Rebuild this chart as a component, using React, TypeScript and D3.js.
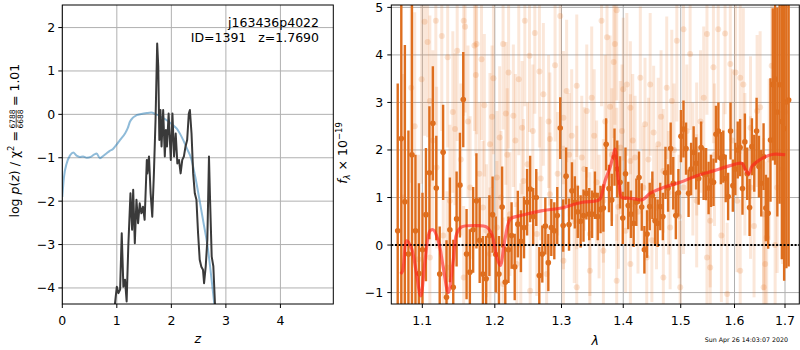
import React from 'react';
import * as d3 from 'd3';

const FONT = '"DejaVu Sans", sans-serif';

// ---- left panel: redshift probability ----
const priorZ = [0, 0.03, 0.08, 0.14, 0.2, 0.26, 0.32, 0.38, 0.45, 0.52, 0.58, 0.63, 0.69, 0.75, 0.81, 0.87, 0.93, 0.97, 1.06, 1.15, 1.2, 1.24, 1.3, 1.36, 1.45, 1.55, 1.63, 1.72, 1.79, 1.91, 2.03, 2.1, 2.16, 2.22, 2.29, 2.36, 2.44, 2.52, 2.59, 2.66, 2.71, 2.755, 2.8];
const priorLogP = [-1.9, -1.45, -1.13, -0.95, -0.88, -0.95, -0.98, -0.97, -1.0, -0.98, -0.93, -0.9, -1.01, -0.96, -0.9, -0.84, -0.8, -0.74, -0.59, -0.44, -0.32, -0.17, -0.07, -0.02, 0.01, 0.03, 0.04, 0.0, -0.04, -0.13, -0.25, -0.33, -0.45, -0.6, -0.8, -1.0, -1.45, -2.0, -2.5, -3.0, -3.5, -4.0, -4.5];

const pzZ = [0.965, 1.0, 1.03, 1.06, 1.09, 1.12, 1.15, 1.18, 1.21, 1.25, 1.28, 1.3, 1.33, 1.36, 1.39, 1.42, 1.45, 1.48, 1.51, 1.55, 1.56, 1.59, 1.62, 1.65, 1.68, 1.71, 1.74, 1.76, 1.78, 1.8, 1.82, 1.85, 1.88, 1.9, 1.92, 1.95, 1.99, 2.02, 2.05, 2.08, 2.11, 2.14, 2.17, 2.2, 2.23, 2.26, 2.29, 2.32, 2.34, 2.37, 2.4, 2.43, 2.46, 2.49, 2.52, 2.55, 2.58, 2.6, 2.63, 2.66, 2.69, 2.71, 2.74, 2.77, 2.8];
const pzLogP = [-4.37, -3.97, -4.12, -4.04, -2.74, -3.97, -3.81, -4.31, -3.05, -1.82, -2.66, -1.74, -2.97, -1.97, -2.51, -2.05, -2.28, -2.13, -2.43, -1.05, -1.36, -0.97, -1.82, -2.36, -1.36, -0.13, 1.63, 1.1, -0.59, 0.1, -0.74, 0.1, -0.97, -0.36, -0.74, 0.02, -1.05, 0.02, -0.97, -0.44, -1.13, -1.05, -1.36, -1.05, -0.97, -0.74, -0.59, 0.02, 0.1, -0.44, -1.36, -1.82, -1.97, -2.74, -3.35, -3.51, -3.58, -3.89, -3.51, -2.89, -0.97, -1.97, -3.28, -3.5, -4.37];

const zTicks = [0, 1, 2, 3, 4];
const logpTicks = [-4, -3, -2, -1, 0, 1, 2];

// ---- right panel: spectrum ----
const specWave = [1.068, 1.0726, 1.0772, 1.0818, 1.0864, 1.091, 1.0956, 1.1002, 1.1048, 1.1094, 1.114, 1.1186, 1.1232, 1.1278, 1.1324, 1.137, 1.1416, 1.1462, 1.1508, 1.1554, 1.16, 1.1646, 1.1692, 1.1738, 1.1784, 1.183, 1.1876, 1.1922, 1.1968, 1.2014, 1.206, 1.2106, 1.2152, 1.2198, 1.2244, 1.229, 1.2336, 1.2382, 1.2428, 1.2474, 1.252, 1.2566, 1.2612, 1.2658, 1.2704, 1.275, 1.2796, 1.2842, 1.2888, 1.2934, 1.298, 1.3026, 1.3072, 1.3118, 1.3164, 1.321, 1.3256, 1.3302, 1.3348, 1.3394, 1.344, 1.3486, 1.3532, 1.3578, 1.3624, 1.367, 1.3716, 1.3762, 1.3808, 1.3854, 1.39, 1.3946, 1.3992, 1.4038, 1.4084, 1.413, 1.4176, 1.4222, 1.4268, 1.4314, 1.436, 1.4406, 1.4452, 1.4498, 1.4544, 1.459, 1.4636, 1.4682, 1.4728, 1.4774, 1.482, 1.4866, 1.4912, 1.4958, 1.5004, 1.505, 1.5096, 1.5142, 1.5188, 1.5234, 1.528, 1.5326, 1.5372, 1.5418, 1.5464, 1.551, 1.5556, 1.5602, 1.5648, 1.5694, 1.574, 1.5786, 1.5832, 1.5878, 1.5924, 1.597, 1.6016, 1.6062, 1.6108, 1.6154, 1.62, 1.6246, 1.6292, 1.6338, 1.6384, 1.643, 1.6476, 1.6522, 1.6568, 1.6614, 1.666, 1.6706, 1.6752, 1.6798, 1.6844, 1.689, 1.6936, 1.6982, 1.7028, 1.7074];
const specFlux = [0.3, 2.24, 0.91, -0.19, 1.9, 0.3, -0.6, -0.1, 0.64, 1.52, 2.56, 1.2, -0.61, 1.95, -1.1, 0.32, -0.89, 0.55, 1.26, 3.06, -0.19, -0.57, 0.32, 0.93, 0.1, -0.61, -0.71, 0.2, 0.64, -0.2, -0.61, 0.8, -0.78, -0.1, 0.2, -0.46, 0.44, 0.08, 0.37, 0.9, 1.18, 0.6, 1.0, -0.64, -0.19, 0.4, -0.37, 0.37, 0.3, 0.62, 2.46, 0.41, 1.45, 0.43, 1.14, 0.9, 0.7, 0.5, 0.62, 1.09, 0.65, 0.65, 1.05, 0.6, 0.75, 0.78, 2.12, 1.19, 0.95, 1.85, 1.6, 1.32, 0.57, 1.5, 0.83, 0.65, 0.46, 0.9, 1.42, 0.8, -0.1, 0.23, 0.81, 1.05, 0.51, 0.46, 0.81, 0.6, 1.52, 1.2, 2.03, 1.3, 0.62, 1.1, 2.29, 2.44, 2.03, 1.09, 1.6, 1.95, 1.72, 1.4, 2.05, 1.5, 1.49, 1.2, 1.35, 1.32, 2.33, 2.4, 1.83, 1.86, 1.4, 1.02, 2.4, 1.25, 1.6, 2.0, 2.05, 1.19, 2.17, 1.5, 0.79, 2.07, 1.72, 2.4, 1.65, 1.3, 1.86, 0.78, 0.67, 2.21, 3.38, 3.49, 2.8, 3.37, 2.6, 2.45, 3.01, 3.05];
const specErr = [3.1, 3.6, 3.3, 2.6, 3.2, 1.6, 1.9, 1.2, 1.4, 1.4, 1.2, 1.1, 1.0, 1.0, 1.2, 1.1, 1.0, 1.0, 1.1, 1.0, 0.95, 0.9, 0.9, 1.0, 0.9, 0.8, 0.9, 0.85, 0.8, 0.8, 0.8, 0.85, 0.75, 0.7, 0.7, 0.7, 0.7, 0.65, 0.65, 0.7, 0.7, 0.6, 0.6, 0.6, 0.6, 0.6, 0.6, 0.6, 0.6, 0.6, 0.65, 0.55, 0.6, 0.55, 0.6, 0.55, 0.55, 0.55, 0.55, 0.55, 0.55, 0.5, 0.5, 0.5, 0.5, 0.5, 0.55, 0.5, 0.55, 0.6, 0.6, 0.55, 0.55, 0.55, 0.5, 0.5, 0.5, 0.5, 0.55, 0.5, 0.5, 0.5, 0.5, 0.5, 0.5, 0.5, 0.5, 0.5, 0.55, 0.5, 0.55, 0.55, 0.5, 0.5, 0.55, 0.6, 0.55, 0.5, 0.55, 0.55, 0.55, 0.55, 0.55, 0.55, 0.55, 0.55, 0.55, 0.5, 0.6, 0.6, 0.55, 0.55, 0.5, 0.5, 0.6, 0.55, 0.55, 0.6, 0.6, 0.55, 0.6, 0.55, 0.6, 0.6, 0.6, 0.7, 0.65, 0.7, 0.7, 0.7, 0.75, 1.3, 1.6, 1.8, 2.2, 2.5, 2.9, 3.2, 3.5, 3.5];

// other exposures (faint): [wavelength, flux, error]
const faintPoints: [number, number, number][] = [
  [1.0855, 3.31, 2.0], [1.099, 3.49, 2.2], [1.103, 4.7, 2.4], [1.107, 4.27, 2.0], [1.11, 3.03, 1.8], [1.118, 4.72, 2.2],
  [1.126, 4.4, 2.0], [1.134, 3.95, 1.9], [1.144, 2.44, 1.6], [1.147, 4.09, 1.9], [1.156, 4.72, 2.0], [1.158, 4.59, 1.8],
  [1.171, 4.2, 1.8], [1.173, 3.58, 1.7], [1.174, 4.23, 1.9], [1.181, 3.91, 1.7], [1.185, 2.94, 1.5], [1.193, 2.12, 1.5],
  [1.198, 3.51, 1.6], [1.203, 1.42, 1.4], [1.207, 2.26, 1.5], [1.212, 4.23, 1.8], [1.216, 2.77, 1.5], [1.22, 3.63, 1.6],
  [1.227, 2.72, 1.5], [1.235, 3.49, 1.6], [1.24, 2.47, 1.4], [1.244, 4.72, 1.8], [1.251, 3.98, 1.6], [1.259, 4.46, 1.7],
  [1.266, 3.65, 1.6], [1.272, 3.17, 1.5], [1.282, 2.23, 1.4], [1.29, 3.78, 1.6], [1.298, 4.82, 1.8], [1.303, 2.68, 1.4],
  [1.308, 3.24, 1.5], [1.316, 2.3, 1.4], [1.324, 3.35, 1.5], [1.332, 1.84, 1.3], [1.34, 2.82, 1.4], [1.348, 3.1, 1.5],
  [1.356, 1.32, 1.3], [1.364, 4.72, 1.8], [1.373, 4.37, 1.7], [1.378, 2.91, 1.5], [1.384, 3.85, 1.6], [1.386, 4.23, 1.7],
  [1.389, 4.94, 1.9], [1.395, 2.05, 1.4], [1.4, 3.28, 1.5], [1.406, 3.38, 1.5], [1.412, 2.89, 1.4], [1.42, 1.84, 1.3],
  [1.429, 3.52, 1.5], [1.437, 2.54, 1.4], [1.446, 3.38, 1.5], [1.452, 2.37, 1.4], [1.46, 2.12, 1.4], [1.469, 1.56, 1.3],
  [1.475, 3.31, 1.5], [1.484, 3.03, 1.5], [1.493, 4.3, 1.7], [1.505, 4.54, 1.7], [1.517, 4.02, 1.6], [1.529, 2.02, 1.4],
  [1.542, 3.1, 1.5], [1.548, 4.44, 1.7], [1.56, 3.74, 1.6], [1.569, 4.54, 1.7], [1.582, 4.45, 1.7], [1.592, 3.81, 1.6],
  [1.602, 3.63, 1.6], [1.611, 3.52, 1.6], [1.617, 3.38, 1.6], [1.631, 2.47, 1.5], [1.644, 2.82, 1.6], [1.673, 3.77, 1.9],
  [1.11, -0.26, 1.8], [1.133, -0.47, 1.6], [1.156, -0.68, 1.5], [1.193, -0.19, 1.4], [1.212, -0.82, 1.4], [1.232, -0.4, 1.3],
  [1.252, -0.96, 1.4], [1.277, -0.61, 1.3], [1.303, -0.33, 1.3], [1.324, -0.89, 1.3], [1.345, -0.54, 1.3], [1.367, -0.12, 1.3],
  [1.389, -0.75, 1.4], [1.412, -0.4, 1.3], [1.44, -0.26, 1.3], [1.469, -0.68, 1.3], [1.499, -0.89, 1.4], [1.548, -0.26, 1.4],
  [1.554, -0.47, 1.4], [1.586, -1.03, 1.5], [1.611, -0.54, 1.5], [1.657, -0.89, 1.6], [1.66, -0.4, 1.6], [1.663, 0.16, 1.6],
  [1.119, 1.63, 1.7], [1.137, 0.93, 1.6], [1.165, 1.21, 1.5], [1.183, 0.79, 1.4], [1.203, 0.37, 1.4], [1.222, 0.65, 1.3],
  [1.242, 1.35, 1.3], [1.262, 0.23, 1.3], [1.282, 1.07, 1.3], [1.303, 0.79, 1.3], [1.324, 1.21, 1.3], [1.345, 0.23, 1.3],
  [1.367, 0.93, 1.3], [1.389, 1.49, 1.4], [1.412, 1.77, 1.4], [1.434, 1.21, 1.3], [1.457, 0.79, 1.3], [1.481, 0.37, 1.3],
  [1.505, 1.21, 1.4], [1.529, 0.93, 1.4], [1.554, 0.51, 1.4], [1.579, 1.49, 1.5], [1.605, 0.93, 1.5], [1.631, 1.21, 1.5],
  [1.657, 0.65, 1.6], [1.684, 1.21, 1.8],
  [1.075, 1.0, 2.6], [1.09, 2.5, 2.4], [1.095, -0.3, 2.2], [1.114, 2.2, 1.9], [1.128, 0.2, 1.7], [1.141, 2.8, 1.7],
  [1.152, 1.8, 1.6], [1.162, 2.6, 1.6], [1.178, 1.5, 1.5], [1.188, 0.3, 1.4], [1.196, 2.7, 1.5], [1.209, 1.0, 1.4],
  [1.218, 1.9, 1.4], [1.23, 2.2, 1.4], [1.238, 0.0, 1.3], [1.248, 1.7, 1.3], [1.256, 2.4, 1.4], [1.268, 1.4, 1.3],
  [1.28, 2.6, 1.4], [1.294, 1.5, 1.3], [1.312, 1.9, 1.3], [1.32, 0.5, 1.3], [1.336, 1.6, 1.3], [1.352, 2.3, 1.4],
  [1.36, 0.6, 1.3], [1.37, 2.6, 1.4], [1.381, 1.9, 1.4], [1.392, 0.8, 1.3], [1.398, 2.4, 1.4], [1.404, 0.3, 1.3],
  [1.416, 2.2, 1.4], [1.425, 0.7, 1.3], [1.443, 1.8, 1.3], [1.449, 0.1, 1.3], [1.465, 2.7, 1.4], [1.478, 1.1, 1.3],
  [1.488, 2.0, 1.4], [1.497, 0.6, 1.3], [1.511, 2.4, 1.4], [1.522, 1.6, 1.4], [1.536, 2.6, 1.5], [1.562, 1.9, 1.5],
  [1.575, 0.2, 1.4], [1.596, 2.2, 1.5], [1.62, 1.7, 1.5], [1.638, 0.4, 1.5], [1.65, 2.9, 1.6], [1.668, 1.8, 1.7],
  [1.68, 0.0, 1.8], [1.695, 1.6, 2.0], [1.7, 2.8, 2.2],
];

const modelWave = [1.0718, 1.0744, 1.0796, 1.0861, 1.0917, 1.0979, 1.1036, 1.1102, 1.1146, 1.1213, 1.128, 1.1348, 1.1416, 1.1462, 1.1531, 1.1741, 1.1884, 1.1956, 1.2029, 1.2078, 1.2152, 1.2227, 1.2378, 1.2686, 1.3003, 1.3329, 1.3561, 1.3615, 1.3697, 1.378, 1.3824, 1.3863, 1.3902, 1.3935, 1.3974, 1.4059, 1.42, 1.4314, 1.4371, 1.4458, 1.4691, 1.4989, 1.5292, 1.56, 1.5916, 1.6141, 1.6206, 1.6271, 1.6336, 1.6401, 1.6566, 1.6766, 1.7003];
const modelFlux = [-0.61, -0.54, 0.09, -0.08, -0.54, -1.07, -0.33, 0.3, 0.32, 0.09, -0.47, -1.0, -0.33, 0.23, 0.38, 0.41, 0.38, 0.23, -0.26, -0.43, 0.16, 0.55, 0.62, 0.72, 0.78, 0.9, 0.93, 0.97, 1.35, 1.63, 1.84, 2.02, 1.56, 1.21, 1.0, 0.99, 0.97, 0.95, 0.99, 1.09, 1.21, 1.32, 1.46, 1.56, 1.67, 1.72, 1.6, 1.49, 1.65, 1.72, 1.84, 1.91, 1.9];

const lamTicks = [1.1, 1.2, 1.3, 1.4, 1.5, 1.6, 1.7];
const fluxTicks = [-1, 0, 1, 2, 3, 4, 5];

const L = { x0: 62.3, x1: 333.3, y0: 5, y1: 304 };
const R = { x0: 391.3, x1: 799.3, y0: 5, y1: 304 };

const DARK = '#de6e1e';
const GRID = '#b0b0b0';

export default function App() {
  const xL = d3.scaleLinear().domain([0, 4.97]).range([L.x0, L.x1]);
  const yL = d3.scaleLinear().domain([-4.37, 2.52]).range([L.y1, L.y0]);
  const xR = d3.scaleLog().domain([1.0598, 1.7294]).range([R.x0, R.x1]);
  const yR = d3.scaleLinear().domain([-1.24, 5.05]).range([R.y1, R.y0]);

  const fmtInt = d3.format('d');
  const fmtLam = d3.format('.1f');

  const priorPath = d3.line<number>()
    .x((d, i) => xL(priorZ[i]))
    .y(d => yL(d))
    .curve(d3.curveMonotoneX)(priorLogP);

  const pzPath = d3.line<number>()
    .x((d, i) => xL(pzZ[i]))
    .y(d => yL(d))(pzLogP);

  const modelPath = d3.line<number>()
    .x((d, i) => xR(modelWave[i]))
    .y(d => yR(d))
    .curve(d3.curveCatmullRom.alpha(0.5))(modelFlux);

  return (
    <div style={{ position: 'absolute', left: 0, top: 0 }}>
      <svg width={800} height={350} style={{ display: 'block', background: '#fff' }} fontFamily={FONT}>
        <defs>
          <clipPath id="clipL"><rect x={L.x0} y={L.y0} width={L.x1 - L.x0} height={L.y1 - L.y0} /></clipPath>
          <clipPath id="clipR"><rect x={R.x0} y={R.y0} width={R.x1 - R.x0} height={R.y1 - R.y0} /></clipPath>
        </defs>

        {/* left panel */}
        <g>
          {zTicks.map(t => (
            <line key={'gx' + t} x1={xL(t)} x2={xL(t)} y1={L.y0} y2={L.y1} stroke={GRID} strokeWidth={1} />
          ))}
          {logpTicks.map(t => (
            <line key={'gy' + t} x1={L.x0} x2={L.x1} y1={yL(t)} y2={yL(t)} stroke={GRID} strokeWidth={1} />
          ))}
          <g clipPath="url(#clipL)">
            <path d={priorPath || ''} fill="none" stroke="#1f77b4" strokeOpacity={0.5} strokeWidth={2} />
            <path d={pzPath || ''} fill="none" stroke="#3a3a3a" strokeWidth={2} strokeLinejoin="round" />
          </g>
          <rect x={L.x0} y={L.y0} width={L.x1 - L.x0} height={L.y1 - L.y0} fill="none" stroke="#000" strokeWidth={1} />
          {zTicks.map(t => (
            <g key={'tx' + t}>
              <line x1={xL(t)} x2={xL(t)} y1={L.y1} y2={L.y1 + 4} stroke="#000" />
              <text x={xL(t)} y={L.y1 + 21} textAnchor="middle" fontSize={12.5}>{fmtInt(t)}</text>
            </g>
          ))}
          {logpTicks.map(t => (
            <g key={'ty' + t}>
              <line x1={L.x0 - 4} x2={L.x0} y1={yL(t)} y2={yL(t)} stroke="#000" />
              <text x={L.x0 - 7} y={yL(t) + 4.5} textAnchor="end" fontSize={12.5}>{fmtInt(t)}</text>
            </g>
          ))}
          <text x={(L.x0 + L.x1) / 2} y={343} textAnchor="middle" fontSize={12.5} fontStyle="italic">z</text>
          <g transform="translate(19,162) rotate(-90)" fontSize={12.5}>
            <text x={31} textAnchor="end">log <tspan fontStyle="italic">p</tspan>(<tspan fontStyle="italic">z</tspan>) / χ<tspan dy={-5} fontSize={8.5}>2</tspan><tspan dy={5}> =</tspan></text>
            <text x={43} y={-4} textAnchor="middle" fontSize={7.5}>6788</text>
            <line x1={34} x2={52} y1={-2.8} y2={-2.8} stroke="#000" strokeWidth={0.7} />
            <text x={43} y={4} textAnchor="middle" fontSize={7.5}>6688</text>
            <text x={56}>= 1.01</text>
          </g>
          <text x={319} y={27} textAnchor="end" fontSize={12.5}>j163436p4022</text>
          <text x={319} y={42} textAnchor="end" fontSize={12.5} style={{ whiteSpace: 'pre' }}>{'ID=1391   z=1.7690'}</text>
        </g>

        {/* right panel */}
        <g>
          {lamTicks.map(t => (
            <line key={'rgx' + t} x1={xR(t)} x2={xR(t)} y1={R.y0} y2={R.y1} stroke={GRID} strokeWidth={1} />
          ))}
          {fluxTicks.map(t => (
            <line key={'rgy' + t} x1={R.x0} x2={R.x1} y1={yR(t)} y2={yR(t)} stroke={GRID} strokeWidth={1} />
          ))}
          <g clipPath="url(#clipR)">
            {faintPoints.map(([w, f, e], i) => (
              <g key={'f' + i}>
                <line x1={xR(w)} x2={xR(w)} y1={yR(f - e)} y2={yR(f + e)} stroke="#e8782a" strokeOpacity={0.18} strokeWidth={3} />
                <circle cx={xR(w)} cy={yR(f)} r={3} fill="#e8782a" fillOpacity={0.2} />
              </g>
            ))}
            {specWave.map((w, i) => (
              <line key={'e' + i} x1={xR(w)} x2={xR(w)} y1={yR(specFlux[i] - specErr[i])} y2={yR(specFlux[i] + specErr[i])} stroke={DARK} strokeWidth={2.4} />
            ))}
            {specWave.map((w, i) => (
              <circle key={'p' + i} cx={xR(w)} cy={yR(specFlux[i])} r={2.8} fill={DARK} />
            ))}
            <line x1={R.x0} x2={R.x1} y1={yR(0)} y2={yR(0)} stroke="#000" strokeWidth={2} strokeDasharray="2,1.7" />
            <path d={modelPath || ''} fill="none" stroke="#ff1a1a" strokeOpacity={0.6} strokeWidth={3.2} strokeLinejoin="round" />
          </g>
          <rect x={R.x0} y={R.y0} width={R.x1 - R.x0} height={R.y1 - R.y0} fill="none" stroke="#000" strokeWidth={1} />
          {lamTicks.map(t => (
            <g key={'rtx' + t}>
              <line x1={xR(t)} x2={xR(t)} y1={R.y1} y2={R.y1 + 4} stroke="#000" />
              <text x={xR(t)} y={R.y1 + 21} textAnchor="middle" fontSize={12.5}>{fmtLam(t)}</text>
            </g>
          ))}
          {fluxTicks.map(t => (
            <g key={'rty' + t}>
              <line x1={R.x0 - 4} x2={R.x0} y1={yR(t)} y2={yR(t)} stroke="#000" />
              <text x={R.x0 - 8} y={yR(t) + 4.5} textAnchor="end" fontSize={12.5}>{fmtInt(t)}</text>
            </g>
          ))}
          <text x={(R.x0 + R.x1) / 2} y={345} textAnchor="middle" fontSize={12.5} fontStyle="italic">λ</text>
          <g transform="translate(347,153) rotate(-90)" fontSize={12.5}>
            <text textAnchor="middle"><tspan fontStyle="italic">f</tspan><tspan fontStyle="italic" fontSize={8.5} dy={3}>λ</tspan><tspan dy={-3}> × 10</tspan><tspan fontSize={8.5} dy={-5}>−19</tspan></text>
          </g>
          <text x={788} y={342} textAnchor="end" fontSize={6.3}>Sun Apr 26 14:03:07 2020</text>
        </g>
      </svg>
    </div>
  );
}
